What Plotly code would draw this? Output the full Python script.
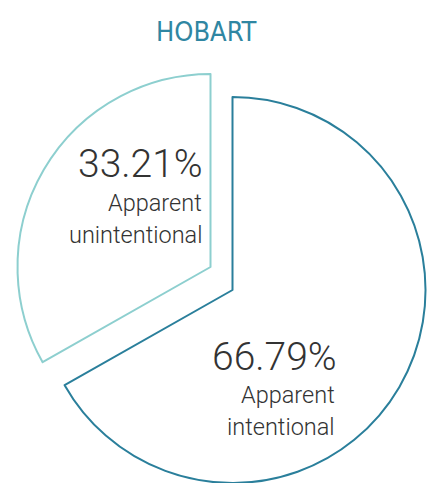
import plotly.graph_objects as go

# ---- data ----
categories = ["Apparent intentional", "Apparent unintentional"]
label_lines = [["Apparent", "intentional"], ["Apparent", "unintentional"]]
values = [66.79, 33.21]
title_text = "HOBART"

# ---- styles ----
W, H = 428, 483
dark = "#2a7f9b"
light = "#8dcfcf"
clear = "rgba(0,0,0,0)"
text_col = "#333333"

def domain(cx, cy, r):
    return dict(x=[(cx - r) / W, (cx + r) / W],
                y=[1 - (cy + r) / H, 1 - (cy - r) / H])

# centre/radius of each drawn slice (light one is pulled out)
geo = [dict(cx=232.5, cy=290, r=193), dict(cx=210.5, cy=267, r=193)]
line_cols = [dark, light]

fig = go.Figure()
for i in range(len(values)):
    fills = [clear] * len(values)
    lines = [clear] * len(values)
    fills[i] = "white"
    lines[i] = line_cols[i]
    fig.add_trace(go.Pie(
        labels=categories, values=values, sort=False,
        direction="clockwise", rotation=0,
        marker=dict(colors=fills, line=dict(color=lines, width=2)),
        textinfo="none", hoverinfo="label+percent",
        domain=domain(**geo[i]), showlegend=False,
    ))

# labels (right-aligned inside each slice)
label_pos = [dict(x=339, y=357, lx=337, ly=[395, 427]),
             dict(x=205, y=164, lx=204, ly=[203, 235])]
ann = []
for i, v in enumerate(values):
    p = label_pos[i]
    ann.append(dict(text=f"{v:.2f}%", x=p["x"] / W, y=1 - p["y"] / H,
                    xref="paper", yref="paper", xanchor="right", yanchor="middle",
                    showarrow=False,
                    font=dict(family="Roboto", size=39, color=text_col, weight=300)))
    for line, ly in zip(label_lines[i], p["ly"]):
        ann.append(dict(text=line, x=p["lx"] / W, y=1 - ly / H,
                        xref="paper", yref="paper", xanchor="right", yanchor="middle",
                        showarrow=False,
                        font=dict(family="Roboto", size=23.5, color=text_col, weight=300)))

ann.append(dict(text=title_text, x=206.5 / W, y=1 - 31 / H, xref="paper", yref="paper",
                xanchor="center", yanchor="middle", showarrow=False,
                font=dict(family="DejaVu Sans Condensed, DejaVu Sans, sans-serif",
                          size=27, color="#2f86a2")))

fig.update_layout(width=W, height=H, margin=dict(l=0, r=0, t=0, b=0),
                  paper_bgcolor="white", plot_bgcolor="white",
                  annotations=ann)
fig.write_html("out.html")
